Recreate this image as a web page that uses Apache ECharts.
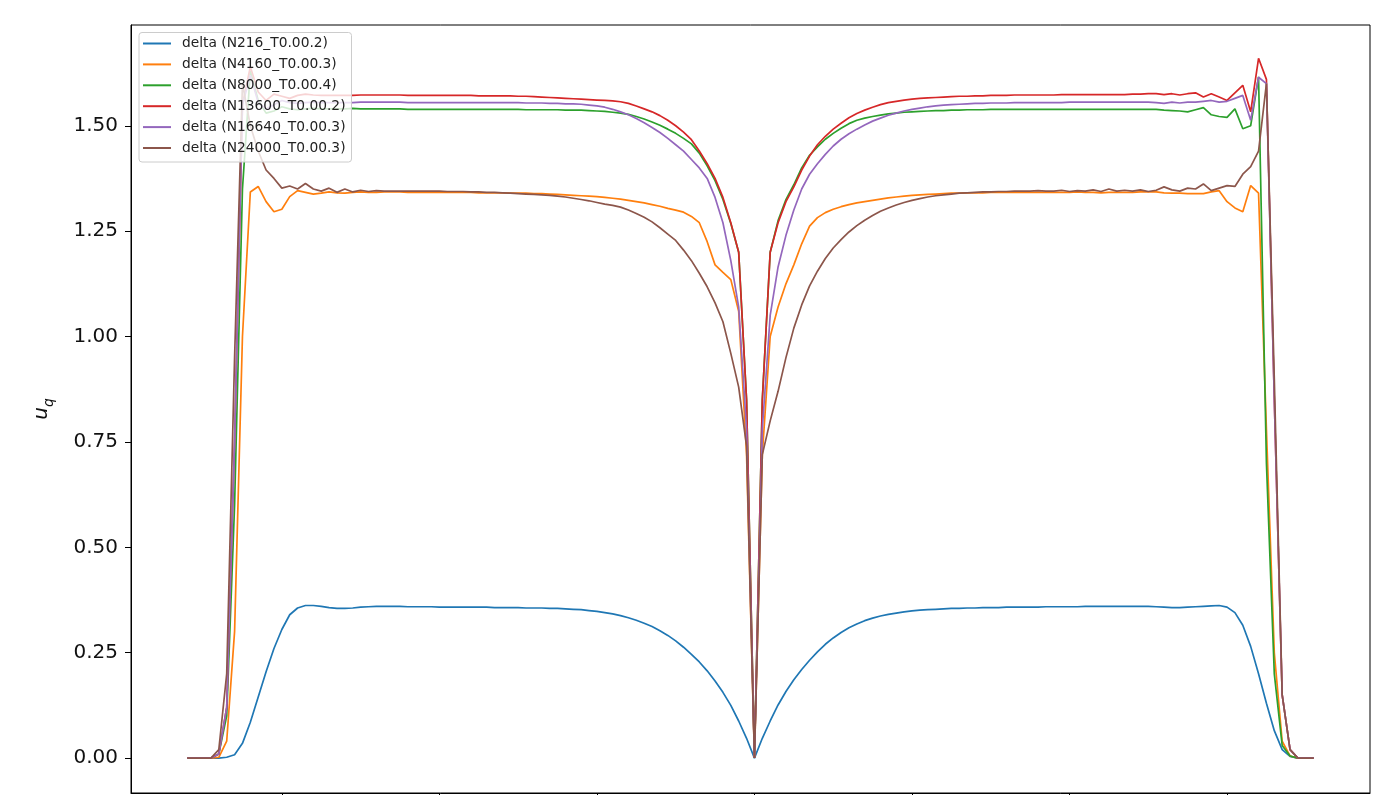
<!DOCTYPE html>
<html>
<head>
<meta charset="utf-8">
<script src="https://cdn.jsdelivr.net/npm/echarts@6.0.0/dist/echarts.min.js"></script>
<style>
html,body{margin:0;padding:0;background:#fff;}
#chart{width:1393px;height:795px;}
</style>
</head>
<body>
<div id="chart"></div>
<script>
const xPos = [-72,-71,-70,-69,-68,-67,-66,-65,-64,-63,-62,-61,-60,-59,-58,-57,-56,-55,-54,-53,
-52,-51,-50,-49,-48,-47,-46,-45,-44,-43,-42,-41,-40,-39,-38,-37,-36,-35,-34,-33,
-32,-31,-30,-29,-28,-27,-26,-25,-24,-23,-22,-21,-20,-19,-18,-17,-16,-15,-14,-13,
-12,-11,-10,-9,-8,-7,-6,-5,-4,-3,-2,-1,0,1,2,3,4,5,6,7,
8,9,10,11,12,13,14,15,16,17,18,19,20,21,22,23,24,25,26,27,
28,29,30,31,32,33,34,35,36,37,38,39,40,41,42,43,44,45,46,47,
48,49,50,51,52,53,54,55,56,57,58,59,60,61,62,63,64,65,66,67,
68,69,70,71];

const seriesNames = ['delta (N216_T0.00.2)','delta (N4160_T0.00.3)','delta (N8000_T0.00.4)','delta (N13600_T0.00.2)','delta (N16640_T0.00.3)','delta (N24000_T0.00.3)'];

const n216 = [0,0,0,0,0,0.002,0.008,0.035,0.085,0.145,
0.205,0.26,0.305,0.34,0.356,0.362,0.362,0.36,0.357,0.355,
0.355,0.356,0.358,0.359,0.36,0.36,0.36,0.36,0.359,0.359,
0.359,0.359,0.358,0.358,0.358,0.358,0.358,0.358,0.358,0.357,
0.357,0.357,0.357,0.356,0.356,0.356,0.355,0.355,0.354,0.353,
0.352,0.35,0.348,0.345,0.342,0.338,0.333,0.327,0.32,0.312,
0.302,0.291,0.278,0.263,0.246,0.228,0.207,0.183,0.156,0.125,
0.088,0.047,0,0.047,0.088,0.126,0.158,0.186,0.21,0.232,
0.252,0.27,0.285,0.298,0.309,0.318,0.326,0.332,0.337,0.341,
0.344,0.347,0.349,0.351,0.352,0.353,0.354,0.355,0.355,0.356,
0.356,0.357,0.357,0.357,0.358,0.358,0.358,0.358,0.358,0.359,
0.359,0.359,0.359,0.359,0.36,0.36,0.36,0.36,0.36,0.36,
0.36,0.36,0.36,0.359,0.358,0.357,0.357,0.358,0.359,0.36,
0.361,0.362,0.358,0.345,0.315,0.265,0.2,0.13,0.065,0.02,
0.004,0,0,0];

const n4160 = [0,0,0,0,0.002,0.04,0.3,1.0,1.343,1.356,
1.32,1.296,1.302,1.332,1.346,1.342,1.338,1.34,1.343,1.341,
1.34,1.342,1.343,1.342,1.342,1.343,1.343,1.343,1.342,1.342,
1.342,1.342,1.342,1.342,1.342,1.342,1.342,1.341,1.341,1.341,
1.341,1.34,1.34,1.34,1.339,1.339,1.338,1.337,1.336,1.335,
1.334,1.333,1.332,1.33,1.328,1.326,1.323,1.32,1.317,1.313,
1.309,1.304,1.3,1.295,1.285,1.27,1.225,1.17,1.152,1.135,
1.06,0.72,0,0.72,1.0,1.07,1.125,1.17,1.22,1.262,
1.282,1.294,1.302,1.308,1.313,1.317,1.32,1.323,1.326,1.329,
1.331,1.333,1.335,1.336,1.337,1.338,1.339,1.34,1.34,1.341,
1.341,1.341,1.342,1.342,1.342,1.342,1.342,1.342,1.342,1.342,
1.342,1.342,1.342,1.343,1.342,1.342,1.341,1.342,1.342,1.342,
1.342,1.343,1.343,1.343,1.341,1.34,1.34,1.339,1.339,1.339,
1.343,1.346,1.32,1.305,1.296,1.358,1.34,0.78,0.25,0.04,
0.005,0,0,0];

const n8000 = [0,0,0,0,0.01,0.1,0.6,1.35,1.63,1.56,
1.53,1.535,1.545,1.54,1.538,1.54,1.541,1.54,1.54,1.54,
1.54,1.541,1.54,1.54,1.54,1.54,1.54,1.54,1.539,1.539,
1.539,1.539,1.539,1.539,1.539,1.539,1.539,1.539,1.539,1.539,
1.539,1.539,1.539,1.538,1.538,1.538,1.538,1.538,1.537,1.537,
1.537,1.536,1.535,1.534,1.532,1.53,1.527,1.522,1.516,1.509,
1.501,1.492,1.482,1.47,1.457,1.435,1.405,1.37,1.325,1.268,
1.2,0.85,0,0.85,1.2,1.275,1.325,1.36,1.4,1.43,
1.45,1.468,1.482,1.494,1.505,1.513,1.518,1.522,1.525,1.528,
1.53,1.532,1.533,1.534,1.535,1.536,1.536,1.537,1.537,1.538,
1.538,1.538,1.539,1.539,1.539,1.539,1.539,1.539,1.539,1.539,
1.539,1.539,1.539,1.539,1.539,1.539,1.539,1.539,1.539,1.539,
1.539,1.539,1.539,1.539,1.537,1.536,1.535,1.533,1.538,1.543,
1.526,1.522,1.52,1.54,1.493,1.5,1.616,0.7,0.2,0.03,
0.005,0,0,0];

const n13600 = [0,0,0,0,0.01,0.12,0.75,1.55,1.64,1.58,
1.56,1.575,1.57,1.565,1.572,1.575,1.573,1.572,1.572,1.572,
1.572,1.572,1.573,1.573,1.573,1.573,1.573,1.573,1.572,1.572,
1.572,1.572,1.572,1.572,1.572,1.572,1.572,1.571,1.571,1.571,
1.571,1.571,1.57,1.57,1.569,1.568,1.567,1.566,1.565,1.564,
1.563,1.562,1.561,1.56,1.559,1.557,1.553,1.547,1.54,1.533,
1.524,1.513,1.5,1.485,1.467,1.44,1.41,1.375,1.33,1.27,
1.2,0.85,0,0.85,1.2,1.27,1.32,1.355,1.395,1.428,
1.455,1.475,1.492,1.506,1.519,1.529,1.537,1.544,1.55,1.555,
1.558,1.561,1.563,1.565,1.566,1.567,1.568,1.569,1.57,1.57,
1.571,1.571,1.572,1.572,1.572,1.573,1.573,1.573,1.573,1.573,
1.573,1.574,1.574,1.574,1.574,1.574,1.574,1.574,1.574,1.574,
1.575,1.575,1.576,1.576,1.574,1.576,1.573,1.576,1.578,1.568,
1.576,1.568,1.56,1.578,1.596,1.533,1.66,1.61,0.85,0.15,
0.02,0,0,0];

const n16640 = [0,0,0,0,0.01,0.12,0.75,1.55,1.62,1.555,
1.54,1.55,1.56,1.555,1.553,1.555,1.556,1.555,1.555,1.555,
1.555,1.555,1.556,1.556,1.556,1.556,1.556,1.556,1.555,1.555,
1.555,1.555,1.555,1.555,1.555,1.555,1.555,1.555,1.555,1.555,
1.555,1.555,1.555,1.554,1.554,1.554,1.553,1.553,1.552,1.552,
1.551,1.549,1.547,1.544,1.539,1.533,1.526,1.517,1.507,1.496,
1.484,1.47,1.455,1.44,1.42,1.4,1.375,1.33,1.27,1.18,
1.07,0.78,0,0.78,1.05,1.165,1.24,1.3,1.35,1.385,
1.41,1.432,1.452,1.468,1.481,1.492,1.502,1.511,1.518,1.525,
1.53,1.535,1.539,1.542,1.545,1.547,1.549,1.55,1.551,1.552,
1.553,1.553,1.554,1.554,1.554,1.555,1.555,1.555,1.555,1.555,
1.555,1.555,1.556,1.556,1.556,1.556,1.556,1.556,1.556,1.556,
1.556,1.556,1.556,1.555,1.553,1.556,1.554,1.556,1.556,1.558,
1.56,1.556,1.558,1.565,1.572,1.513,1.615,1.6,0.85,0.15,
0.02,0,0,0];

const n24000 = [0,0,0,0,0.02,0.2,0.95,1.6,1.5,1.44,
1.395,1.375,1.352,1.357,1.35,1.363,1.35,1.345,1.352,1.342,
1.35,1.343,1.347,1.344,1.346,1.345,1.345,1.345,1.345,1.345,
1.345,1.345,1.345,1.344,1.344,1.344,1.343,1.343,1.342,1.342,
1.341,1.34,1.339,1.338,1.337,1.336,1.335,1.333,1.331,1.328,
1.325,1.322,1.318,1.314,1.311,1.307,1.3,1.292,1.283,1.272,
1.258,1.243,1.228,1.205,1.18,1.15,1.118,1.08,1.035,0.96,
0.88,0.74,0,0.72,0.8,0.87,0.95,1.02,1.075,1.12,
1.155,1.185,1.21,1.23,1.248,1.263,1.276,1.287,1.297,1.305,
1.312,1.318,1.323,1.327,1.331,1.334,1.336,1.338,1.34,1.341,
1.342,1.343,1.343,1.344,1.344,1.345,1.345,1.345,1.346,1.345,
1.345,1.347,1.344,1.346,1.345,1.348,1.344,1.35,1.345,1.347,
1.345,1.348,1.344,1.347,1.355,1.348,1.345,1.352,1.35,1.362,
1.346,1.352,1.358,1.356,1.385,1.403,1.44,1.6,0.9,0.15,
0.02,0,0,0];

const yTicks = [0, 0.25, 0.5, 0.75, 1.0, 1.25, 1.5];
const xTicks = [-60, -40, -20, 0, 20, 40, 60];

const seriesValues = [n216, n4160, n8000, n13600, n16640, n24000];
const colors = ['#1f77b4','#ff7f0e','#2ca02c','#d62728','#9467bd','#8c564b'];

const chart = echarts.init(document.getElementById('chart'), null, {renderer:'canvas'});
const option = {
  animation: false,
  backgroundColor: '#ffffff',
  color: colors,
  grid: {left:131, right:23, top:25, bottom:2, show:true, borderColor:'#000', borderWidth:1, backgroundColor:'transparent'},
  xAxis: {
    type:'value', min:-79.15, max:78.15,
    axisLine:{show:true, onZero:false, lineStyle:{color:'#000', width:1}},
    axisTick:{show:true, inside:false, length:6, customValues:xTicks, lineStyle:{color:'#000'}},
    axisLabel:{show:false},
    splitLine:{show:false}
  },
  yAxis: {
    type:'value', min:-0.0828, max:1.739,
    axisLine:{show:true, onZero:false, lineStyle:{color:'#000', width:1}},
    axisTick:{show:true, inside:false, length:6, customValues:yTicks, lineStyle:{color:'#000'}},
    axisLabel:{show:true, customValues:yTicks, margin:13, fontSize:20, fontFamily:'DejaVu Sans', color:'#111',
      formatter: v => Number(v).toFixed(2)},
    splitLine:{show:false}
  },
  legend: {
    orient:'vertical', left:139, top:32.5,
    padding:[4,6,7,4],
    itemWidth:28, itemHeight:2, itemGap:6.9,
    icon:'rect',
    backgroundColor:'rgba(255,255,255,0.8)', borderColor:'#cccccc', borderWidth:1, borderRadius:3,
    textStyle:{fontFamily:'DejaVu Sans', fontSize:13.8, color:'#222', lineHeight:14, padding:[0,0,0,6]},
    data: seriesNames
  },
  graphic: [
    {type:'text', x:41.5, y:413.5, rotation:Math.PI/2, z:10,
      style:{text:'u', fontSize:20, fontStyle:'italic', fontFamily:'DejaVu Sans', fill:'#111', align:'center', verticalAlign:'middle', textAlign:'center', textVerticalAlign:'middle'}},
    {type:'text', x:49, y:402.5, rotation:Math.PI/2, z:10,
      style:{text:'q', fontSize:14, fontStyle:'italic', fontFamily:'DejaVu Sans', fill:'#111', align:'center', verticalAlign:'middle', textAlign:'center', textVerticalAlign:'middle'}}
  ],
  series: seriesNames.map((name, k) => ({
    name: name,
    type:'line',
    showSymbol:false,
    symbol:'none',
    clip:true,
    lineStyle:{width:1.7, color:colors[k]},
    itemStyle:{color:colors[k]},
    emphasis:{disabled:true},
    data: xPos.map((x, i) => [x, seriesValues[k][i]])
  }))
};
chart.setOption(option);
</script>
</body>
</html>
